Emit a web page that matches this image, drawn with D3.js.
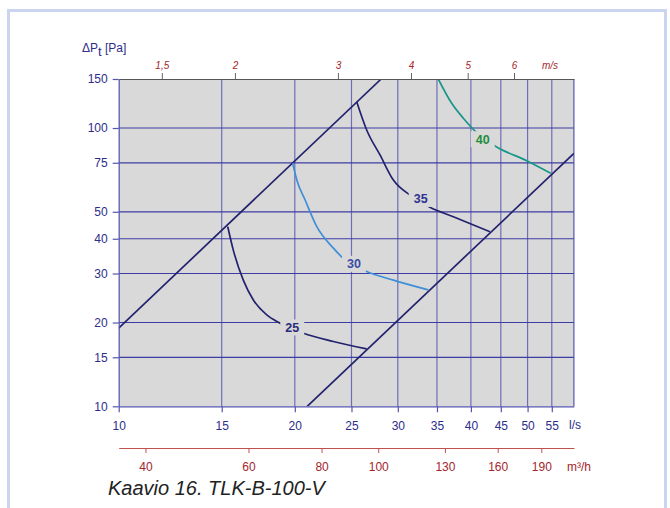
<!DOCTYPE html>
<html>
<head>
<meta charset="utf-8">
<script src="https://cdn.jsdelivr.net/npm/d3@7"></script>
<style>
  html, body { margin: 0; padding: 0; background: #ffffff; }
  svg { display: block; font-family: "Liberation Sans", Arial, sans-serif; }
</style>
</head>
<body>
<svg id="chart" width="670" height="508"></svg>
<script>
// Flow (l/s) ticks along the bottom, pressure (Pa) ticks on the left
const flowTicks = [10, 15, 20, 25, 30, 35, 40, 45, 50, 55];
const pressureTicks = [10, 15, 20, 30, 40, 50, 75, 100, 150];
// Duct velocity (m/s) along the top, airflow in m³/h under the chart
const velocityTicks = [1.5, 2, 3, 4, 5, 6];
const m3hTicks = [40, 60, 80, 100, 130, 160, 190];

// Operating range limits, [l/s, Pa]
const upperLimit = [[10, 19.1], [28.1, 150]];
const lowerLimit = [[21, 10], [60, 81]];

// Sound level curves (dB(A)), [l/s, Pa]
const curve25 = [[15.36, 44.2], [15.70, 36.4], [16.33, 28.4], [16.99, 24.1], [17.91, 21.3],
                 [18.87, 19.9], [20.69, 18.3], [23.28, 17.1], [26.54, 16.07]];
const curve30 = [[19.84, 74.7], [20.16, 65.0], [20.83, 55.1], [21.81, 44.2], [23.28, 37.0],
                 [24.21, 34.0], [26.37, 30.7], [29.48, 28.4], [33.83, 26.2]];
const curve35 = [[25.52, 124.3], [26.54, 98.4], [27.97, 80.0], [29.48, 65.0], [31.47, 57.4],
                 [34.05, 51.9], [37.33, 48.0], [43.12, 42.4]];
const curve40 = [[35.18, 150], [37.09, 122.7], [38.83, 108.4], [40.66, 97.5], [43.99, 86.2],
                 [49.83, 76.3], [54.76, 68.8]];
const curveLabels = [
  { text: "25", at: [19.8, 19.2], color: "#2a2a7c" },
  { text: "30", at: [25.25, 32.5], color: "#3a4ea6" },
  { text: "35", at: [32.83, 55.6], color: "#2e3290" },
  { text: "40", at: [41.91, 91.1], color: "#1d8f3c" }
];

const flowPerVelocity = 7.9;   // l/s per m/s for the Ø100 duct
const m3hPerLs = 3.6;

const svg = d3.select("#chart");
const plotL = 118.7, plotR = 573.9, plotT = 79, plotB = 406.3;

const x = d3.scaleLog().domain([10, 60]).range([plotL, plotR]);
const y = d3.scaleLog().domain([10, 150]).range([plotB, plotT]);
const xVel = d3.scaleLog().domain([10 / flowPerVelocity, 60 / flowPerVelocity]).range([plotL, plotR]);
const xM3h = d3.scaleLog().domain([10 * m3hPerLs, 60 * m3hPerLs]).range([plotL, plotR]);

const navy = "#2d2d8a";
const red = "#a3262b";

// Outer frame
svg.append("path")
  .attr("d", "M8.5,508 V10.5 H665.5 V508")
  .attr("fill", "none").attr("stroke", "#ccd5ef").attr("stroke-width", 3);

// Plot background
svg.append("rect")
  .attr("x", plotL).attr("y", plotT)
  .attr("width", plotR - plotL).attr("height", plotB - plotT)
  .attr("fill", "#d9d9d9");

// Grid
const grid = svg.append("g");
grid.selectAll(".vg").data(flowTicks.slice(1)).join("line")
  .attr("x1", d => x(d)).attr("x2", d => x(d))
  .attr("y1", plotT).attr("y2", plotB)
  .attr("stroke", "#6e6eb8").attr("stroke-width", 1.2);
grid.selectAll(".hg").data(pressureTicks.slice(1, -1)).join("line")
  .attr("x1", plotL).attr("x2", plotR)
  .attr("y1", d => y(d)).attr("y2", d => y(d))
  .attr("stroke", "#3c3ca2").attr("stroke-width", 1.2);

// Right border
svg.append("line").attr("x1", plotR).attr("x2", plotR).attr("y1", plotT).attr("y2", plotB)
  .attr("stroke", "#5555b0").attr("stroke-width", 1.2);

// Clip for curves
svg.append("clipPath").attr("id", "plotClip")
  .append("rect").attr("x", plotL).attr("y", plotT)
  .attr("width", plotR - plotL).attr("height", plotB - plotT);

const line = d3.line().x(d => x(d[0])).y(d => y(d[1])).curve(d3.curveMonotoneX);
const marks = svg.append("g").attr("clip-path", "url(#plotClip)");

[[upperLimit, "#22226e"], [lowerLimit, "#22226e"], [curve25, "#22226e"],
 [curve30, "#3f8fd8"], [curve35, "#22226e"], [curve40, "#17968a"]].forEach(([data, color]) => {
  marks.append("path").datum(data)
    .attr("d", line)
    .attr("fill", "none").attr("stroke", color).attr("stroke-width", 1.7);
});

// Curve labels, with a gap cut into the curve behind them
const lbl = svg.append("g");
curveLabels.forEach(c => {
  const cx = x(c.at[0]), cy = y(c.at[1]);
  lbl.append("rect").attr("x", cx - 12).attr("y", cy - 8).attr("width", 24).attr("height", 16)
    .attr("fill", "#d9d9d9");
  lbl.append("text").attr("x", cx).attr("y", cy + 4.5)
    .attr("text-anchor", "middle").attr("font-size", 12.5).attr("font-weight", "bold")
    .attr("fill", c.color).text(c.text);
});

// Top axis: duct velocity
const topAxis = svg.append("g").attr("transform", `translate(0,${plotT})`)
  .call(d3.axisTop(xVel).tickValues(velocityTicks).tickSize(6).tickPadding(4).tickSizeOuter(0)
    .tickFormat(d => String(d).replace(".", ",")));
topAxis.select(".domain").attr("stroke", "#555").attr("stroke-width", 1.2);
topAxis.selectAll(".tick line").attr("stroke", "#666");
topAxis.selectAll("text").attr("fill", red).attr("font-size", 10).attr("font-style", "italic")
  .attr("font-family", "Liberation Sans, Arial, sans-serif");
svg.append("text").attr("x", 550).attr("y", 69).attr("text-anchor", "middle")
  .attr("font-size", 10).attr("font-style", "italic").attr("fill", red).text("m/s");

// Left axis: total pressure
const leftAxis = svg.append("g").attr("transform", `translate(${plotL},0)`)
  .call(d3.axisLeft(y).tickValues(pressureTicks).tickSize(6).tickPadding(5).tickSizeOuter(0)
    .tickFormat(d3.format("d")));
leftAxis.select(".domain").attr("stroke", "#5555b0").attr("stroke-width", 1.2);
leftAxis.selectAll(".tick line").attr("stroke", "#5555b0").attr("stroke-width", 1.2);
leftAxis.selectAll("text").attr("fill", navy).attr("font-size", 12)
  .attr("font-family", "Liberation Sans, Arial, sans-serif");

const yTitle = svg.append("text").attr("x", 82).attr("y", 52).attr("font-size", 12).attr("fill", navy);
yTitle.append("tspan").text("ΔP");
yTitle.append("tspan").attr("dy", 4).attr("font-size", 13).text("t");
yTitle.append("tspan").attr("dy", -4).text(" [Pa]");

// Bottom axis: airflow l/s
const bottomAxis = svg.append("g").attr("transform", `translate(0,${plotB})`)
  .call(d3.axisBottom(x).tickValues(flowTicks).tickSize(6).tickPadding(9).tickSizeOuter(0)
    .tickFormat(d3.format("d")));
bottomAxis.select(".domain").attr("stroke", "#5555b0").attr("stroke-width", 1.2);
bottomAxis.selectAll(".tick line").attr("stroke", "#5555b0").attr("stroke-width", 1.2);
bottomAxis.selectAll("text").attr("fill", navy).attr("font-size", 12)
  .attr("font-family", "Liberation Sans, Arial, sans-serif");
svg.append("text").attr("x", 569).attr("y", 429).attr("font-size", 12).attr("fill", navy).text("l/s");

// Airflow m³/h scale
const m3hAxis = svg.append("g").attr("transform", "translate(0,448)")
  .call(d3.axisBottom(xM3h).tickValues(m3hTicks).tickSize(5).tickPadding(9).tickSizeOuter(0)
    .tickFormat(d3.format("d")));
m3hAxis.select(".domain").attr("stroke", "#c0504d").attr("stroke-width", 1.2);
m3hAxis.selectAll(".tick line").attr("stroke", "#c0504d");
m3hAxis.selectAll("text").attr("fill", red).attr("font-size", 12)
  .attr("font-family", "Liberation Sans, Arial, sans-serif");
svg.append("text").attr("x", 567).attr("y", 471).attr("font-size", 12).attr("fill", red).text("m³/h");

// Caption
svg.append("text").attr("x", 108).attr("y", 495)
  .attr("font-size", 20).attr("font-style", "italic").attr("fill", "#222")
  .text("Kaavio 16. TLK-B-100-V");
</script>
</body>
</html>
